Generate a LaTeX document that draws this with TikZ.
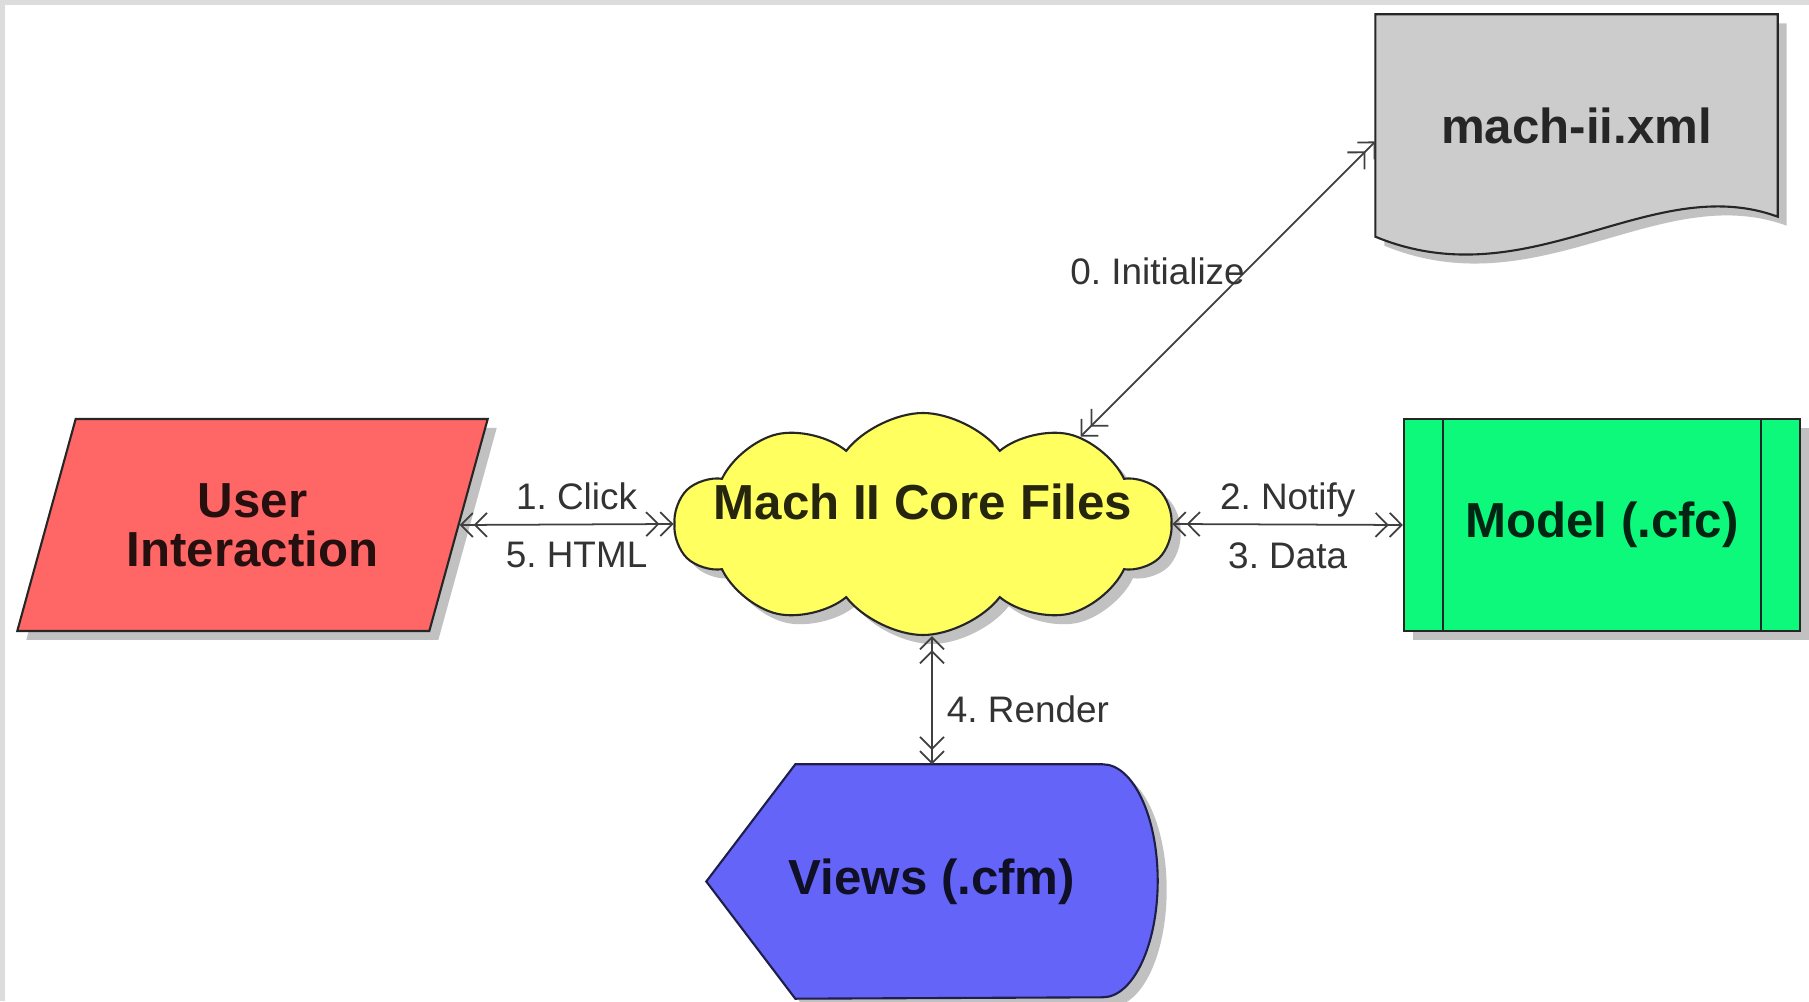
\documentclass[tikz,border=0pt]{standalone}
\usepackage{fontspec}
\setmainfont{Liberation Sans}
\frenchspacing
\usetikzlibrary{positioning,arrows.meta,shapes.geometric,shapes.symbols,shadows,backgrounds}

\definecolor{framegray}{HTML}{DCDCDC}
\definecolor{userred}{HTML}{FF6666}
\definecolor{coreyellow}{HTML}{FFFF60}
\definecolor{modelgreen}{HTML}{0CF97C}
\definecolor{viewblue}{HTML}{6464F8}
\definecolor{docgray}{HTML}{CCCCCC}

\tikzset{
dropshade/.style={
drop shadow={shadow xshift=0.9mm,shadow yshift=-0.9mm,opacity=0.3,fill=black!80}
},
block/.style={
draw=black!85,
line width=0.6pt,
align=center,
font=\bfseries\fontsize{14}{14}\selectfont,
dropshade
},
userbox/.style={
block,
trapezium,
trapezium left angle=67,
trapezium right angle=113,
trapezium stretches=true,
fill=userred,
text=userred!15!black,
minimum width=4.71cm,
minimum height=2.12cm
},
corebox/.style={
block,
cloud,
cloud puffs=10,
cloud puff arc=105,
cloud ignores aspect,
fill=coreyellow,
text=coreyellow!15!black,
minimum width=4.96cm,
minimum height=2.22cm
},
modelbox/.style={
block,
rectangle,
fill=modelgreen,
text=modelgreen!15!black,
minimum width=3.96cm,
minimum height=2.12cm,
path picture={
\draw[line width=0.6pt] ([xshift=3.9mm]path picture bounding box.north west) -- ([xshift=3.9mm]path picture bounding box.south west);
\draw[line width=0.6pt] ([xshift=-3.9mm]path picture bounding box.north east) -- ([xshift=-3.9mm]path picture bounding box.south east);
}
},
doctext/.style={
font=\bfseries\fontsize{14}{14}\selectfont,
text=black!85,
minimum width=4.01cm,
minimum height=2.21cm
},
docbox/.style={
draw=black!85,
line width=0.6pt,
fill=docgray,
dropshade
},
viewtext/.style={
font=\bfseries\fontsize{14}{14}\selectfont,
text=viewblue!15!black,
minimum width=4.5cm,
minimum height=2.33cm
},
viewbox/.style={
draw=viewblue!30!black,
line width=0.6pt,
fill=viewblue,
dropshade
},
link/.style={
<<->>,
draw=black!75,
line width=0.5pt
},
lab/.style={
font=\fontsize{10.5}{12}\selectfont,
text=black!80,
text depth=0pt,
inner sep=1.4mm
}
}

\begin{document}
\begin{tikzpicture}[>={Straight Barb[length=1.2mm,width=2.4mm]}]
\useasboundingbox (0,0) rectangle (18.09,10.01);
\begin{scope}[on background layer]
\fill[framegray] (0,0) rectangle (18.09,10.01);
\fill[white] (0.05,0) rectangle (18.09,9.96);
\end{scope}

\node[userbox](user) at (2.525,4.76){User\\Interaction};
\node[corebox](core) at (9.23,4.77){\smash{\makebox[0pt]{\raisebox{0.4mm}{Mach II Core Files}}}};
\node[modelbox](model) at (16.02,4.76){Model (.cfc)};
\node[doctext](xml) at (15.765,8.755){mach-ii.xml};
\node[viewtext](views) at (9.32,1.195){Views (.cfm)};

% shapes behind the texts
\begin{scope}[on background layer]
\draw[docbox] (xml.north west) -- (xml.north east) -- ([yshift=2mm]xml.south east)
  .. controls +(-1.27,0.465) and +(1.54,-0.635) .. (xml.south west) -- cycle;
\draw[viewbox] (views.west) -- ([xshift=8.9mm]views.north west) -- ([xshift=-5.5mm]views.north east)
  arc[start angle=90,end angle=-90,x radius=5.5mm,y radius=11.65mm] -- ([xshift=8.9mm]views.south west) -- cycle;
\end{scope}

\draw[link](user.east)-- node[lab,above,xshift=1mm]{1. Click} node[lab,below,inner sep=1.7mm,xshift=1mm]{5. HTML} (core.west);
\draw[link](core.east)-- node[lab,above]{2. Notify} node[lab,below,inner sep=1.7mm]{3. Data} (model.west);
\draw[link](core.29)-- node[lab,pos=0.56,anchor=east,inner sep=0pt]{0. Initialize} ([yshift=-1.6mm]xml.west);
\draw[link](views.north |- core.south)-- node[lab,pos=0.57,right]{4. Render} (views.north);
\end{tikzpicture}
\end{document}
